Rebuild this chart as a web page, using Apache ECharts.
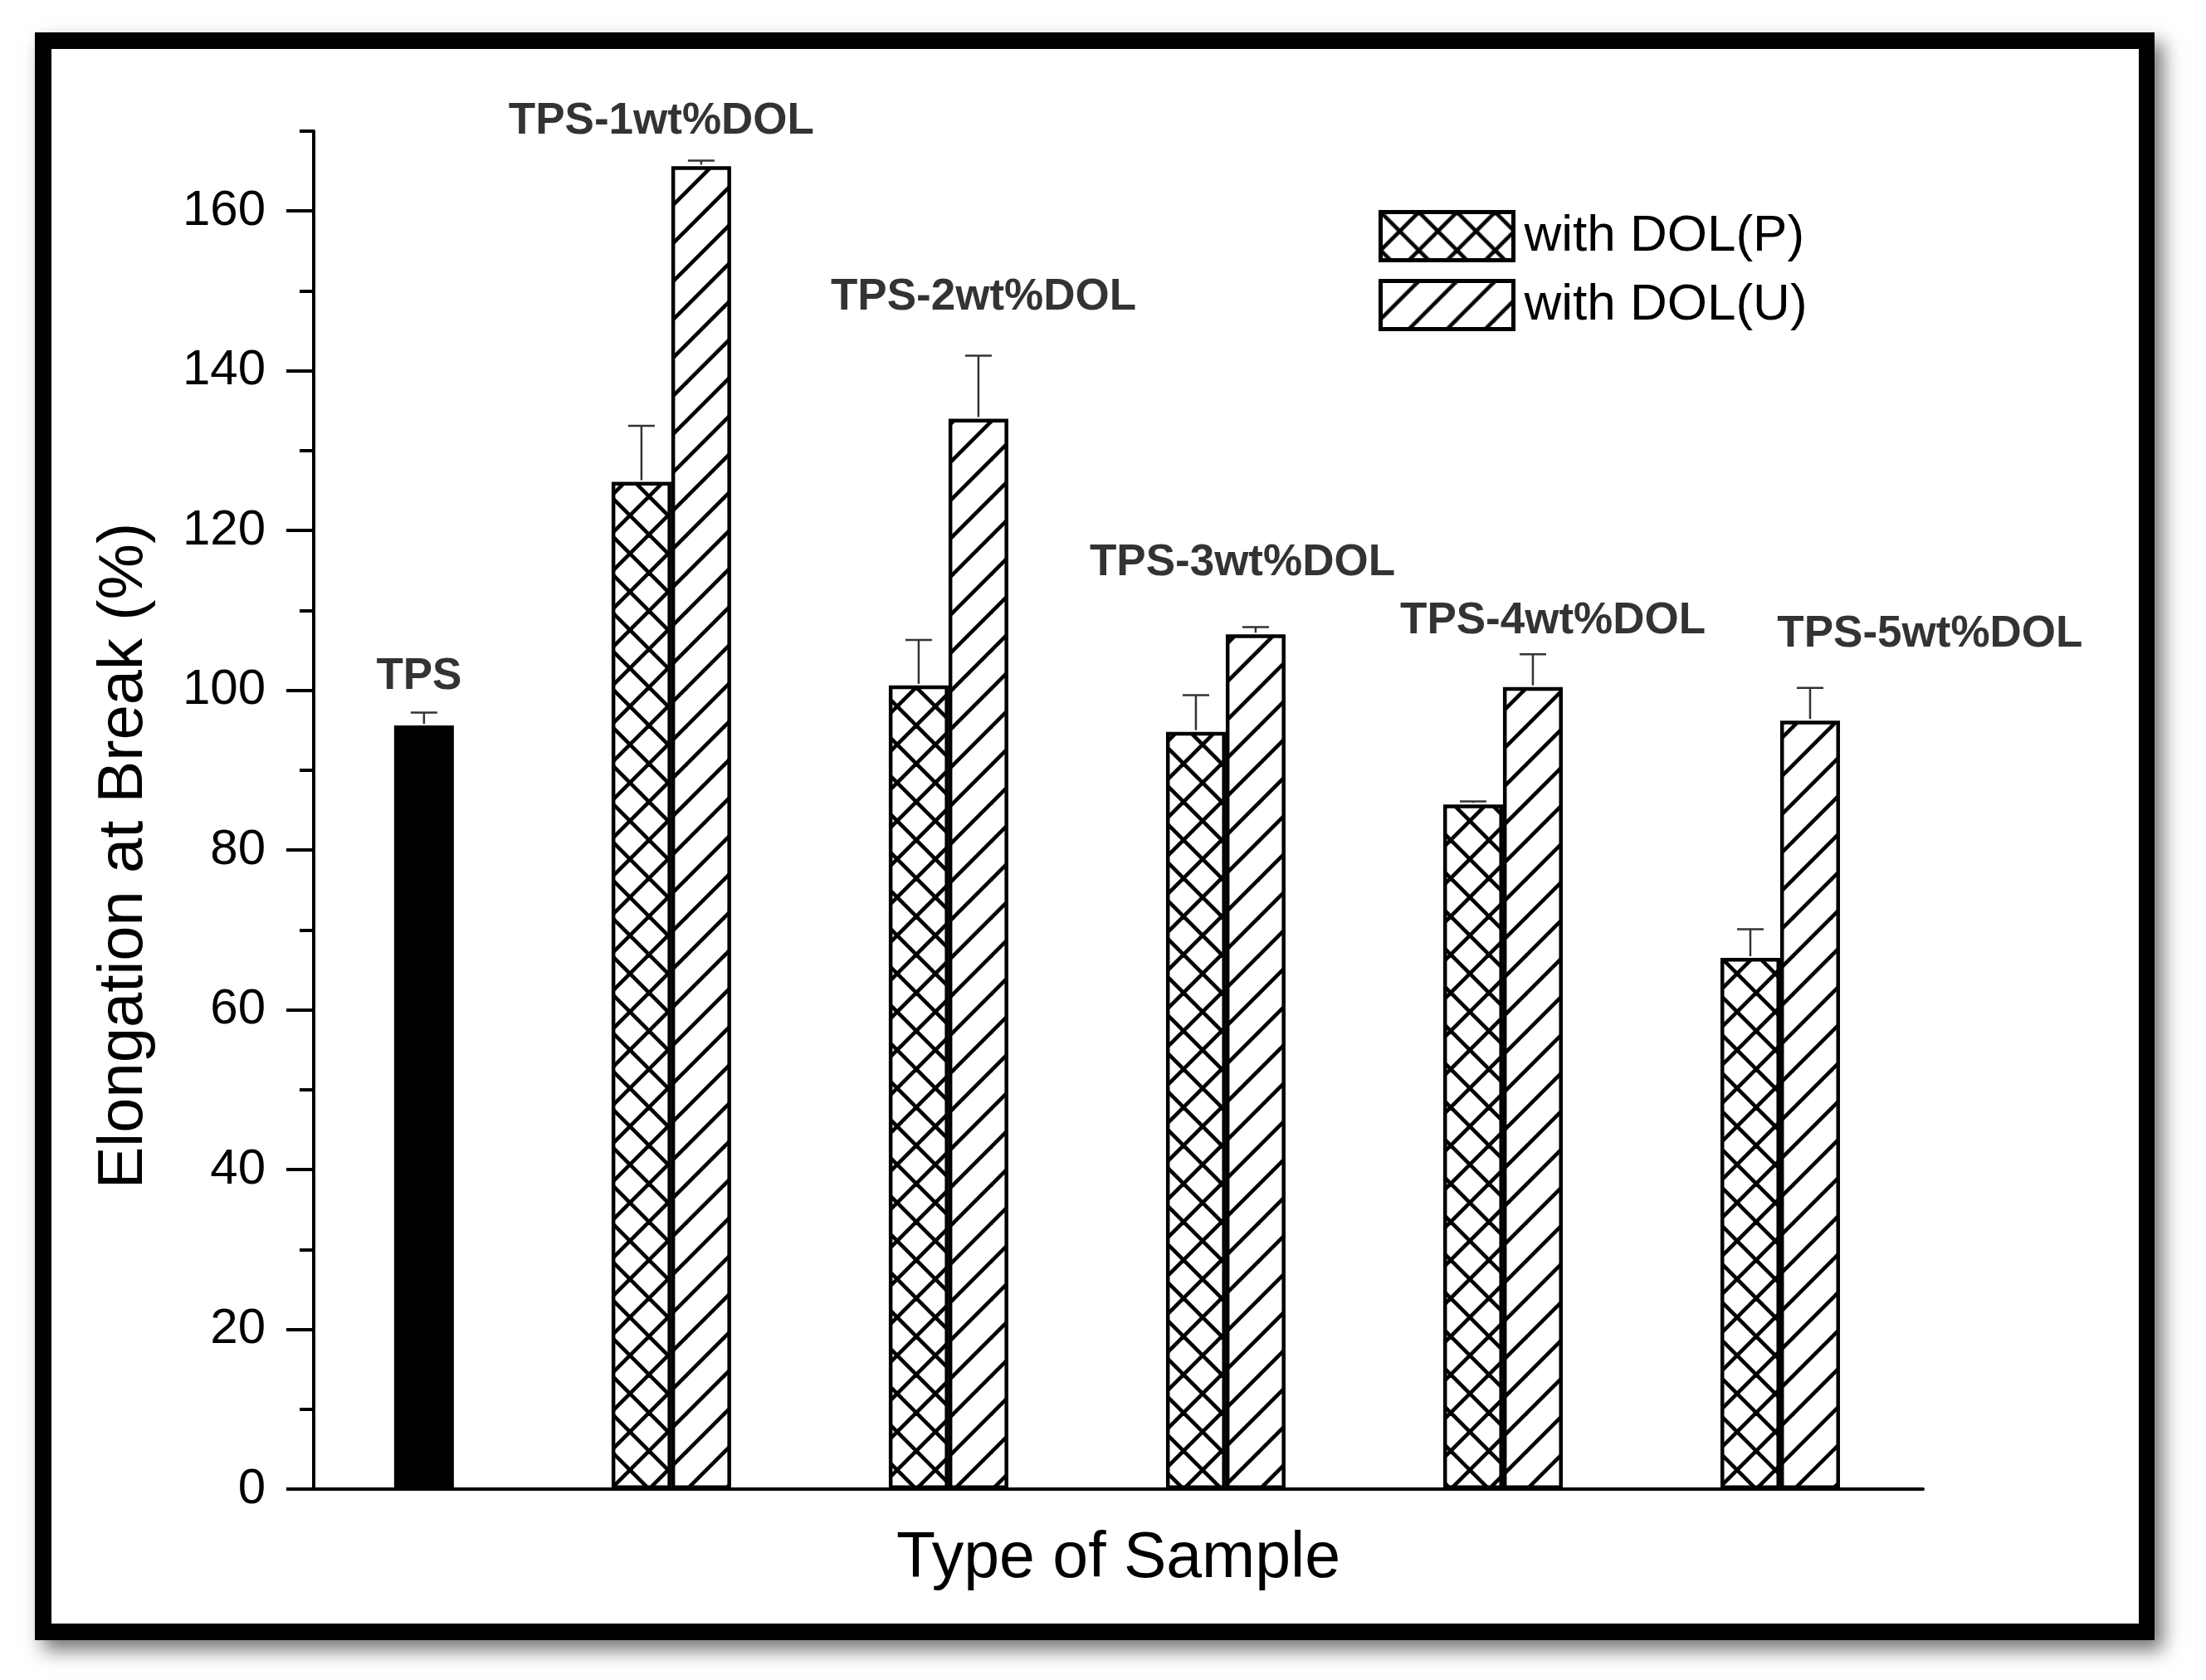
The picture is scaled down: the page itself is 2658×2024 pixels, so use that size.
<!DOCTYPE html>
<html>
<head>
    <meta charset="utf-8" />
    <title>Elongation at Break</title>
    <script type="text/javascript" src="https://cdn.jsdelivr.net/npm/echarts@6/dist/echarts.min.js"></script>
    <style>
        html, body { margin: 0; padding: 0; background: #fff; }
        #main { width: 2658px; height: 2024px; }
    </style>
</head>
<body>
<div id="main"></div>
<script type="text/javascript">
    // sample groups (TPS only has the plain bar)
    var categories = ['TPS', 'TPS-1wt%DOL', 'TPS-2wt%DOL', 'TPS-3wt%DOL', 'TPS-4wt%DOL', 'TPS-5wt%DOL'];
    var groupPos = [0, 1, 2, 3, 4, 5];

    // TPS reference bar
    var tpsValue = 95.6;
    var tpsErr = 1.6;

    // with DOL(P), groups 1..5
    var pValues = [126.1, 100.6, 94.8, 85.7, 66.5];
    var pErr = [7.0, 5.7, 4.6, 0.4, 3.6];

    // with DOL(U), groups 1..5
    var uValues = [165.6, 134.0, 107.0, 100.4, 96.2];
    var uErr = [0.7, 7.9, 0.9, 4.1, 4.1];

    var yMajorTicks = [0, 20, 40, 60, 80, 100, 120, 140, 160];
    var yMinorTicks = [10, 30, 50, 70, 90, 110, 130, 150, 170];

    // where the group names sit (x in group units, y in axis units)
    var labelAnchors = [[0.09, 101.7], [0.964, 171.2], [2.126, 149.2], [3.06, 115.9], [4.18, 108.6], [5.54, 107.0]];

    var FONT = "'Liberation Sans', Arial, sans-serif";
    var BAR_W = 72;

    // hatch tiles
    function makeTile(cross) {
        var s = 46;
        var c = document.createElement('canvas');
        c.width = s; c.height = s;
        var ctx = c.getContext('2d');
        ctx.fillStyle = '#fff';
        ctx.fillRect(0, 0, s, s);
        ctx.strokeStyle = '#000';
        ctx.lineWidth = 4.6;
        for (var o = -s; o <= s; o += s) {
            ctx.beginPath();
            ctx.moveTo(o - 6, s + 6);
            ctx.lineTo(o + s + 6, -6);
            ctx.stroke();
            if (cross) {
                ctx.beginPath();
                ctx.moveTo(o - 6, -6);
                ctx.lineTo(o + s + 6, s + 6);
                ctx.stroke();
            }
        }
        return c;
    }
    var crossFill = { image: makeTile(true), repeat: 'repeat' };
    var slashFill = { image: makeTile(false), repeat: 'repeat' };

    // build series data from the arrays
    var pData = [], uData = [], errData = [], labelData = [];
    uData.push({ value: [groupPos[0], tpsValue], itemStyle: { color: '#000' } });
    errData.push([groupPos[0], tpsValue, tpsValue + tpsErr, 1]);
    for (var i = 0; i < pValues.length; i++) {
        pData.push([groupPos[i + 1], pValues[i]]);
        uData.push([groupPos[i + 1], uValues[i]]);
        errData.push([groupPos[i + 1], pValues[i], +(pValues[i] + pErr[i]).toFixed(2), -1]);
        errData.push([groupPos[i + 1], uValues[i], +(uValues[i] + uErr[i]).toFixed(2), 1]);
    }
    for (var j = 0; j < categories.length; j++) {
        labelData.push({ name: categories[j], value: labelAnchors[j] });
    }

    var myChart = echarts.init(document.getElementById('main'));
    var option = {
        backgroundColor: '#fff',
        animation: false,
        textStyle: { fontFamily: FONT, color: '#000' },
        graphic: [
            {
                type: 'rect', z: -10, silent: true,
                shape: { x: 42, y: 39, width: 2554, height: 1937 },
                style: { fill: '#000', shadowBlur: 22, shadowOffsetX: 10, shadowOffsetY: 12, shadowColor: 'rgba(0,0,0,0.55)' }
            },
            {
                type: 'rect', z: -9, silent: true,
                shape: { x: 62, y: 59, width: 2515, height: 1897 },
                style: { fill: '#fff' }
            }
        ],
        grid: { left: 378, right: 341, top: 158, bottom: 230, containLabel: false, outerBoundsMode: 'none' },
        legend: {
            data: ['with DOL(P)', 'with DOL(U)'],
            orient: 'vertical',
            left: 1656,
            top: 248,
            itemWidth: 160,
            itemHeight: 58,
            itemGap: 20,
            icon: 'rect',
            itemStyle: { borderColor: '#000', borderWidth: 5 },
            textStyle: { fontSize: 62, fontFamily: FONT, color: '#000', lineHeight: 58, padding: [0, 0, 0, 8] }
        },
        xAxis: {
            type: 'value',
            min: -0.29,
            max: 5.515,
            name: 'Type of Sample',
            nameLocation: 'middle',
            nameGap: 46,
            nameTextStyle: { fontSize: 77, fontFamily: FONT, color: '#000' },
            axisLine: { show: true, onZero: false, lineStyle: { color: '#000', width: 4 } },
            axisTick: { show: false },
            axisLabel: { show: false },
            splitLine: { show: false }
        },
        yAxis: [
            {
                type: 'value',
                min: 0,
                max: 170,
                interval: 10,
                name: 'Elongation at Break (%)',
                nameLocation: 'middle',
                nameGap: 190,
                nameTextStyle: { fontSize: 76, fontFamily: FONT, color: '#000', padding: [0, 110, 0, 0] },
                axisLine: { show: true, onZero: false, lineStyle: { color: '#000', width: 4 } },
                axisTick: { show: true, inside: false, length: 33, customValues: yMajorTicks, lineStyle: { color: '#000', width: 4 } },
                axisLabel: { show: true, margin: 58, fontSize: 60, fontFamily: FONT, color: '#000', customValues: yMajorTicks },
                splitLine: { show: false }
            },
            {
                type: 'value',
                position: 'left',
                min: 0,
                max: 170,
                interval: 10,
                axisLine: { show: false, onZero: false },
                axisTick: { show: true, inside: false, length: 17, customValues: yMinorTicks, lineStyle: { color: '#000', width: 4 } },
                axisLabel: { show: false },
                splitLine: { show: false }
            }
        ],
        series: [
            {
                name: 'with DOL(P)',
                type: 'bar',
                barWidth: BAR_W,
                barGap: '0%',
                itemStyle: { color: crossFill, borderColor: '#000', borderWidth: 4.5 },
                data: pData
            },
            {
                name: 'with DOL(U)',
                type: 'bar',
                barWidth: BAR_W,
                barGap: '0%',
                itemStyle: { color: slashFill, borderColor: '#000', borderWidth: 4.5 },
                data: uData
            },
            {
                name: 'err',
                type: 'custom',
                z: 5,
                silent: true,
                encode: { x: 0, y: [1, 2] },
                renderItem: function (params, api) {
                    var x = api.value(0);
                    var side = api.value(3);
                    var base = api.coord([x, api.value(1)]);
                    var top = api.coord([x, api.value(2)]);
                    var cx = base[0] + side * BAR_W / 2;
                    var st = { stroke: '#333', lineWidth: 2.5 };
                    return {
                        type: 'group',
                        children: [
                            { type: 'line', shape: { x1: cx, y1: base[1] - 2, x2: cx, y2: top[1] }, style: st },
                            { type: 'line', shape: { x1: cx - 16, y1: top[1], x2: cx + 16, y2: top[1] }, style: st }
                        ]
                    };
                },
                data: errData
            },
            {
                name: 'names',
                type: 'scatter',
                symbolSize: 0,
                clip: false,
                silent: true,
                label: {
                    show: true,
                    position: 'inside',
                    formatter: function (p) { return p.name; },
                    fontSize: 53,
                    fontWeight: 'bold',
                    fontFamily: FONT,
                    color: '#000'
                },
                data: labelData
            }
        ]
    };
    myChart.setOption(option);
</script>
</body>
</html>
